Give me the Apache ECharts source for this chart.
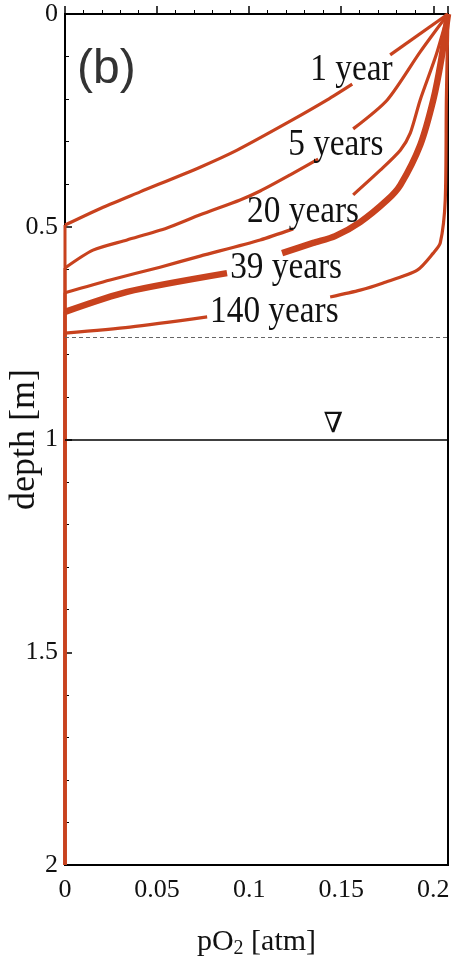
<!DOCTYPE html>
<html>
<head>
<meta charset="utf-8">
<script src="https://cdn.jsdelivr.net/npm/echarts@6/dist/echarts.min.js"></script>
<style>
  html, body { margin: 0; padding: 0; background: #fff; }
  #chart { width: 453px; height: 965px; }
</style>
</head>
<body>
<div id="chart"></div>
<script>
// Soil-gas oxygen profiles: pO2 [atm] against depth [m] for several elapsed times.
// A null entry breaks a curve where its label is written.
const oneYearPO2   = [0.208, 0.1766, null, 0.1560, 0.1424, 0.1223, 0.0935, 0.0734, 0.0408, 0.0207, 0, 0];
const oneYearDepth = [0, 0.096, null, 0.165, 0.202, 0.252, 0.320, 0.360, 0.418, 0.454, 0.496, 2];

const fiveYearsPO2   = [0.208, 0.1929, 0.1750, 0.1565, null, 0.1375, 0.1223, 0.1060, 0.0951, 0.0734, 0.0554, 0.0337, 0.0152, 0, 0];
const fiveYearsDepth = [0, 0.089, 0.202, 0.270, null, 0.341, 0.378, 0.416, 0.437, 0.472, 0.503, 0.531, 0.555, 0.597, 2];

const twentyYearsPO2   = [0.208, 0.2016, 0.1929, 0.1875, 0.1821, 0.1712, 0.1565, null, 0.1239, 0.1060, 0.0734, 0.0516, 0.0245, 0, 0];
const twentyYearsDepth = [0, 0.096, 0.202, 0.280, 0.320, 0.367, 0.425, null, 0.505, 0.531, 0.569, 0.595, 0.625, 0.655, 2];

const thirtyNineYearsPO2   = [0.208, 0.2043, 0.2000, 0.1929, 0.1821, 0.1750, 0.1603, 0.1467, 0.1348, 0.1179, null, 0.0880, 0.0337, 0, 0];
const thirtyNineYearsDepth = [0, 0.108, 0.202, 0.308, 0.402, 0.437, 0.489, 0.522, 0.538, 0.562, null, 0.609, 0.653, 0.700, 2];

const hundredFortyYearsPO2   = [0.208, 0.2071, 0.2065, 0.2038, 0.2000, 0.1913, 0.1728, 0.1603, 0.1440, null, 0.0772, 0.0353, 0, 0];
const hundredFortyYearsDepth = [0, 0.202, 0.437, 0.538, 0.562, 0.602, 0.632, 0.649, 0.665, null, 0.712, 0.736, 0.750, 2];

const curveNames = ['1 year', '5 years', '20 years', '39 years', '140 years'];

// Reference depths: lower boundary of the aerated layer and the water table
const aeratedDepth = 0.76;
const waterTableDepth = 1.0;

// Axis ranges and ticks
const pO2Max = 0.208;
const pO2TickStep = 0.05;
const depthMax = 2;
const depthTickStep = 0.5;

const curveColor = '#C8421E';
const serif = '"Liberation Serif", "Times New Roman", serif';

const curves = [
  { name: curveNames[0], x: oneYearPO2, y: oneYearDepth, width: 3.2 },
  { name: curveNames[1], x: fiveYearsPO2, y: fiveYearsDepth, width: 3.2 },
  { name: curveNames[2], x: twentyYearsPO2, y: twentyYearsDepth, width: 3.2 },
  { name: curveNames[3], x: thirtyNineYearsPO2, y: thirtyNineYearsDepth, width: 6.5 },
  { name: curveNames[4], x: hundredFortyYearsPO2, y: hundredFortyYearsDepth, width: 3.2 }
];

// Split one curve into continuous pieces at the null breaks;
// the anoxic run down the pO2 = 0 axis becomes its own piece.
function pieces(xs, ys) {
  const out = [];
  let cur = [];
  for (let i = 0; i < xs.length; i++) {
    if (xs[i] === null || ys[i] === null) {
      if (cur.length) out.push({ pts: cur, axis: false });
      cur = [];
    } else {
      cur.push([xs[i], ys[i]]);
    }
  }
  if (cur.length) {
    const n = cur.length;
    if (n >= 3 && cur[n - 1][0] === 0 && cur[n - 2][0] === 0) {
      out.push({ pts: cur.slice(0, n - 1), axis: false });
      out.push({ pts: cur.slice(n - 2), axis: true });
    } else {
      out.push({ pts: cur, axis: false });
    }
  }
  return out;
}

const series = [];
curves.forEach(c => {
  pieces(c.x, c.y).forEach(seg => {
    series.push({
      name: c.name,
      type: 'line',
      data: seg.pts,
      showSymbol: false,
      smooth: seg.axis ? false : 0.25,
      lineStyle: { color: curveColor, width: seg.axis ? 3 : c.width, cap: 'butt', join: 'round' },
      z: 3,
      silent: true
    });
  });
});

// Horizontal reference lines
series.push({
  type: 'line',
  data: [],
  silent: true,
  markLine: {
    silent: true,
    symbol: 'none',
    label: { show: false },
    data: [
      { yAxis: aeratedDepth, lineStyle: { color: '#666', type: [4, 3], width: 1.2 } },
      { yAxis: waterTableDepth, lineStyle: { color: '#000', type: 'solid', width: 1.5 } }
    ]
  }
});

const chart = echarts.init(document.getElementById('chart'), null, { renderer: 'canvas' });

chart.setOption({
  animation: false,
  backgroundColor: '#fff',
  grid: {
    left: 65, right: 5, top: 14, bottom: 100,
    containLabel: false,
    outerBoundsMode: 'none',
    show: true, borderColor: '#000', borderWidth: 2, backgroundColor: 'transparent'
  },
  xAxis: {
    type: 'value',
    min: 0, max: pO2Max, interval: pO2TickStep,
    name: '{a|pO}{s|2}{a| [atm]}',
    nameLocation: 'middle',
    nameGap: 60,
    nameMoveOverlap: false,
    nameTextStyle: {
      rich: {
        a: { fontFamily: serif, fontSize: 30, color: '#111' },
        s: { fontFamily: serif, fontSize: 20, color: '#111', padding: [14, 0, 0, 0] }
      }
    },
    axisLine: { show: true, lineStyle: { color: '#000', width: 2 } },
    axisTick: { show: true, inside: true, length: 8, lineStyle: { color: '#000', width: 1.5 } },
    minorTick: { show: true, splitNumber: 5, length: 4, lineStyle: { color: '#000', width: 1 } },
    splitLine: { show: false },
    axisLabel: {
      fontFamily: serif, fontSize: 26, color: '#111', margin: 12,
      showMaxLabel: false,
      formatter: v => (v > 0.2001 ? '' : String(+v.toFixed(3)))
    }
  },
  yAxis: {
    type: 'value',
    inverse: true,
    min: 0, max: depthMax, interval: depthTickStep,
    name: 'depth [m]',
    nameLocation: 'middle',
    nameGap: 22,
    nameRotate: 90,
    nameMoveOverlap: false,
    nameTextStyle: { fontFamily: serif, fontSize: 36, color: '#111' },
    axisLine: { show: true, lineStyle: { color: '#000', width: 2 } },
    axisTick: { show: true, inside: true, length: 7, lineStyle: { color: '#000', width: 1.5 } },
    minorTick: { show: true, splitNumber: 5, length: 4, lineStyle: { color: '#000', width: 1 } },
    splitLine: { show: false },
    axisLabel: { fontFamily: serif, fontSize: 26, color: '#111', margin: 7 }
  },
  series: series
});

// Curve labels, the water-table symbol and the panel tag, anchored in data coordinates
const curveLabelAnchors = [
  [0.1332, 0.1316],
  [0.1212, 0.3078],
  [0.0989, 0.4653],
  [0.0897, 0.5969],
  [0.0788, 0.7003]
];
const waterTableMarkX = 0.1457;
const waterTableMarkDepth = 0.966;

const graphics = [];
curveNames.forEach((label, i) => {
  const p = chart.convertToPixel({ gridIndex: 0 }, curveLabelAnchors[i]);
  graphics.push({
    type: 'text',
    x: p[0], y: p[1],
    scaleX: 0.9,
    silent: true,
    z: 10,
    style: {
      text: label, fill: '#111', font: '37px ' + serif,
      textAlign: 'left', textVerticalAlign: 'middle'
    }
  });
});
const wt = chart.convertToPixel({ gridIndex: 0 }, [waterTableMarkX, waterTableMarkDepth]);
graphics.push({
  type: 'text', x: wt[0], y: wt[1], silent: true, z: 10,
  style: { text: '\u2207', fill: '#111', font: '28px "DejaVu Serif", serif', textAlign: 'center', textVerticalAlign: 'middle' }
});
graphics.push({
  type: 'text', x: 77, y: 70, silent: true, z: 10,
  style: { text: '(b)', fill: '#333', font: '48px "Liberation Sans", Arial, sans-serif', textAlign: 'left', textVerticalAlign: 'middle' }
});

chart.setOption({ graphic: graphics });
</script>
</body>
</html>
